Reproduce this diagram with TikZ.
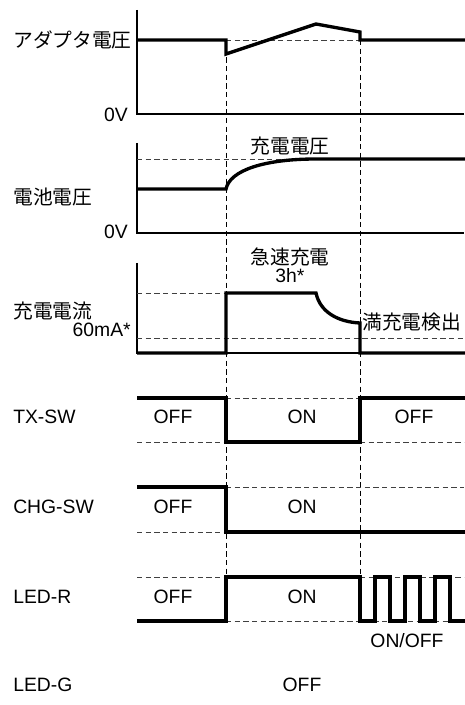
\documentclass[tikz,border=0pt]{standalone}
\usepackage{fontspec}
\setmainfont{Liberation Sans}
\newfontfamily\jp{Noto Sans CJK JP}
\begin{document}
\begin{tikzpicture}[x=0.75pt,y=-0.75pt,
    sig/.style={line width=2.5pt,line join=miter},
    ax/.style={line width=0.8pt},
    guide/.style={dash pattern=on 4pt off 2.5pt,line width=0.6pt,black!75},
    lbl/.style={font=\fontsize{14.5}{16}\selectfont,inner sep=0pt},
    jlbl/.style={font=\fontsize{14.8}{17}\jp,inner sep=0pt}]
  \useasboundingbox (0,0) rectangle (464,705);
  % event lines
  \draw[guide,black] (226,40) -- (226,577);
  \draw[guide,black] (360,40) -- (360,577);
  % adapter voltage
  \draw[ax] (137,10) -- (137,114) -- (464,114);
  \draw[guide] (226,40) -- (360,40);
  \draw[sig] (137,40) -- (226,40) -- (226,54) -- (316,24) -- (360,32) -- (360,40) -- (466,40);
  \node[jlbl,anchor=west] (vad) at (13,40) {アダプタ電圧};
  \node[lbl,anchor=east] (zero1) at (128,115) {0V};
  % battery voltage
  \draw[ax] (137,143) -- (137,233) -- (464,233);
  \draw[guide] (137,159) -- (316,159);
  \draw[sig] (137,189) -- (226,189) .. controls (230,170) and (265,159) .. (316,159) -- (466,159);
  \node[jlbl] (vchg) at (290,146) {充電電圧};
  \node[jlbl,anchor=west] (vbat) at (13,197) {電池電圧};
  \node[lbl,anchor=east] (zero2) at (128,232) {0V};
  % charge current
  \draw[ax] (137,263) -- (137,353) -- (464,353);
  \draw[guide] (137,293) -- (226,293);
  \draw[guide] (137,338) -- (464,338);
  \draw[sig] (137,353) -- (226,353) -- (226,293) -- (316,293) .. controls (320,312) and (338,322) .. (360,323) -- (360,353) -- (466,353);
  \node[jlbl] (fast) at (290,257) {急速充電};
  \node[lbl] (tmax) at (290,276) {3h*};
  \node[jlbl,anchor=west] (ichg) at (13,311) {充電電流};
  \node[lbl,anchor=east] (imin) at (131,330) {60mA*};
  \node[jlbl,anchor=west] (full) at (362,322) {満充電検出};
  % TX-SW
  \draw[guide] (226,398) -- (360,398);
  \draw[guide] (137,442) -- (226,442);
  \draw[guide] (360,442) -- (464,442);
  \draw[sig] (137,398) -- (226,398) -- (226,442) -- (360,442) -- (360,398) -- (466,398);
  \node[lbl,anchor=west] (txsw) at (13,417) {TX-SW};
  \node[lbl] (txa) at (173,417) {OFF};
  \node[lbl] (txb) at (302,417) {ON};
  \node[lbl] (txc) at (414,417) {OFF};
  % CHG-SW
  \draw[guide] (226,487) -- (464,487);
  \draw[guide] (137,532) -- (226,532);
  \draw[sig] (137,487) -- (226,487) -- (226,532) -- (466,532);
  \node[lbl,anchor=west] (chgsw) at (13,507) {CHG-SW};
  \node[lbl] (chga) at (173,507) {OFF};
  \node[lbl] (chgb) at (302,507) {ON};
  % LED-R
  \draw[guide] (137,577) -- (226,577);
  \draw[guide] (360,577) -- (464,577);
  \draw[guide] (226,621) -- (464,621);
  \draw[sig] (137,621) -- (226,621) -- (226,577) -- (360,577) -- (360,621) -- (375,621) -- (375,577) -- (390,577) -- (390,621) -- (405,621) -- (405,577) -- (420,577) -- (420,621) -- (435,621) -- (435,577) -- (450,577) -- (450,621) -- (466,621);
  \node[lbl,anchor=west] (ledr) at (13,597) {LED-R};
  \node[lbl] (ledra) at (173,597) {OFF};
  \node[lbl] (ledrb) at (302,597) {ON};
  \node[lbl] (blink) at (407,641) {ON/OFF};
  % LED-G
  \node[lbl,anchor=west] (ledg) at (13,685) {LED-G};
  \node[lbl] (ledga) at (302,685) {OFF};
\end{tikzpicture}
\end{document}
